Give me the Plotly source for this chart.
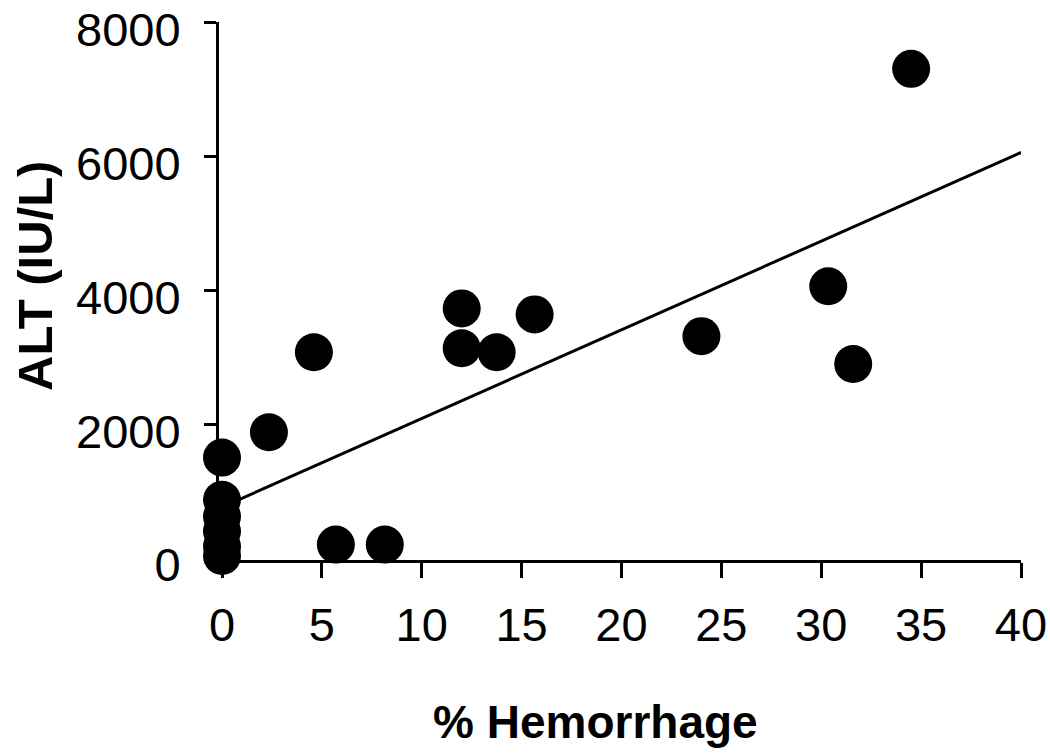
import plotly.graph_objects as go

# data
hemorrhage_pct = [0, 0, 0, 0, 0, 0, 2.35, 4.6, 5.7, 8.15, 12.0, 12.0, 13.75, 15.65, 24.0, 30.35, 31.6, 34.5]
alt_iu_l = [1500, 870, 620, 400, 170, 30, 1880, 3075, 200, 200, 3730, 3135, 3075, 3640, 3315, 4060, 2900, 7310]

trend_x = [0, 40]
trend_y = [760, 6060]

x_ticks = [0, 5, 10, 15, 20, 25, 30, 35, 40]
y_ticks = [0, 2000, 4000, 6000, 8000]

x_title = "% Hemorrhage"
y_title = "ALT (IU/L)"

W, H = 1050, 753
L, R, T, B = 219, 29, 22, 193
pw, ph = W - L - R, H - T - B

fig = go.Figure()
fig.add_trace(go.Scatter(x=trend_x, y=trend_y, mode="lines",
                         line=dict(color="black", width=3), showlegend=False, hoverinfo="skip"))
fig.add_trace(go.Scatter(x=hemorrhage_pct, y=alt_iu_l, mode="markers",
                         marker=dict(color="black", size=38, line=dict(width=0)),
                         showlegend=False, cliponaxis=False))

font_family = "Liberation Sans, Arial, sans-serif"
fig.update_layout(
    width=W, height=H,
    margin=dict(l=L, r=R, t=T, b=B, autoexpand=False),
    paper_bgcolor="white", plot_bgcolor="white",
    font=dict(family=font_family, color="black"),
    xaxis=dict(range=[-0.15, 40], tickvals=x_ticks, showgrid=False, zeroline=False,
               showline=True, linecolor="black", linewidth=3, automargin=False,
               ticks="outside", ticklen=15, tickwidth=3, tickcolor="black",
               tickfont=dict(size=47), ticklabelstandoff=7, ticklabeloverflow="allow"),
    yaxis=dict(range=[-30, 8010], tickvals=y_ticks, tickformat="d", showgrid=False, zeroline=False,
               showline=True, linecolor="black", linewidth=3, automargin=False,
               ticks="outside", ticklen=12, tickwidth=3, tickcolor="black",
               tickfont=dict(size=47), ticklabelstandoff=14, ticklabelshift=7,
               ticklabeloverflow="allow"),
    annotations=[
        dict(text="<b>" + x_title + "</b>", xref="paper", yref="paper",
             x=(595 - L) / pw, y=(H - B - 722) / ph, xanchor="center", yanchor="middle",
             showarrow=False, font=dict(size=46)),
        dict(text="<b>" + y_title + "</b>", xref="paper", yref="paper", textangle=-90,
             x=(35 - L) / pw, y=(H - B - 276) / ph, xanchor="center", yanchor="middle",
             showarrow=False, font=dict(size=49)),
    ],
)

fig.write_html("out.html", config={"displayModeBar": False},
               post_script="document.body.style.margin='0';")
